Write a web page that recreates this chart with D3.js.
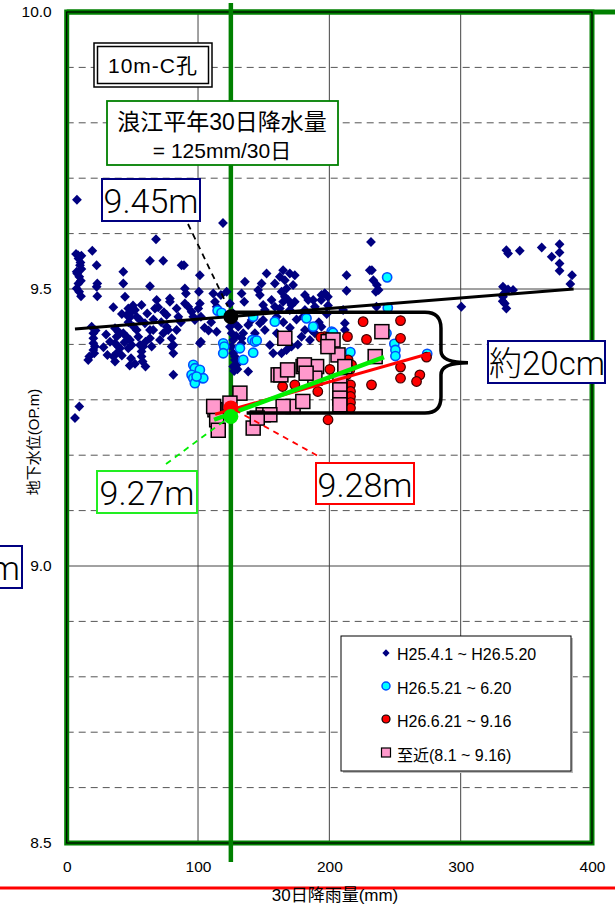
<!DOCTYPE html>
<html>
<head>
<meta charset="utf-8">
<script src="https://cdn.jsdelivr.net/npm/d3@7"></script>
<style>
  html, body { margin: 0; padding: 0; background: #fff; }
  svg { display: block; }
  text { font-family: "Liberation Sans", Arial, "Noto Sans CJK JP", sans-serif; fill: #000; }
  .jp { font-family: "Liberation Sans", "Noto Sans CJK JP", sans-serif; }
  .big { font-family: Roboto, "Liberation Sans", "Noto Sans CJK JP", sans-serif; font-weight: 300; }
</style>
</head>
<body>
<svg id="chart" width="615" height="908"></svg>
<script>
// ---- data: 30-day rainfall (mm) vs groundwater level (OP.m), well 10m-C ----
const periodLabels = ["H25.4.1 ~ H26.5.20", "H26.5.21 ~ 6.20", "H26.6.21 ~ 9.16", "至近(8.1 ~ 9.16)"];

const seriesA = [ // H25.4.1 ~ H26.5.20
  [7.8,9.661],[68,9.590],[19.5,9.569],[8.6,9.561],[11.2,9.560],[7.1,9.563],[10.1,9.543],[11.2,9.536],
  [7.6,9.531],[9.6,9.522],[8.9,9.510],[7.6,9.501],[10.9,9.487],[22.8,9.543],[23.3,9.510],[22.8,9.504],
  [23.3,9.487],[63.4,9.551],[73.5,9.551],[43.1,9.531],[43.1,9.510],[63.4,9.505],[89.3,9.543],[90,9.501],
  [90.8,9.492],[44.4,9.486],[35.5,9.467],[46.9,9.465],[49.5,9.459],[52,9.462],[53.3,9.450],[48.2,9.449],
  [45.7,9.453],[57,9.471],[61.3,9.456],[68.5,9.480],[67.2,9.465],[69.7,9.467],[78.6,9.483],[78.6,9.477],
  [83.7,9.465],[76.1,9.453],[90,9.474],[92.5,9.468],[95.1,9.459],[96.4,9.450],[97.6,9.444],[55.8,9.444],
  [59.6,9.438],[63.4,9.426],[65.9,9.426],[19,9.432],[20.3,9.420],[20.3,9.411],[20.3,9.402],[21.5,9.396],
  [20.3,9.390],[17.2,9.378],[16.4,9.372],[36.8,9.429],[39.3,9.423],[40.6,9.420],[38,9.414],[36.8,9.402],
  [39.3,9.396],[40.6,9.393],[38,9.384],[35.5,9.378],[36.8,9.369],[43.1,9.420],[45.7,9.414],[48.2,9.408],
  [49.5,9.399],[46.9,9.393],[53.3,9.426],[54.5,9.414],[55.8,9.399],[58.3,9.396],[57,9.387],[57,9.378],
  [57.8,9.369],[63.4,9.411],[64.7,9.396],[71,9.408],[73.5,9.420],[76.1,9.432],[77.3,9.426],[79.9,9.411],
  [81.2,9.399],[81.2,9.384],[79.9,9.396],[83.7,9.426],[81.2,9.345],[9.6,9.288],[6.3,9.267],[87.5,9.543],
  [101.4,9.402],[9,9.555],[10.5,9.548],[8,9.528],[10.8,9.515],[9.5,9.495],[22,9.425],[21,9.384],
  [50.5,9.470],[42,9.455],[47,9.440],[51,9.432],[44,9.404],[33,9.405],[30,9.418],[28,9.395],[31,9.381],
  [42,9.380],[49,9.375],[52,9.365],[60,9.405],[66,9.445],[72,9.440],[74,9.458],[85,9.450],[87,9.440],
  [60,9.360],[48,9.362],
  [101.4,9.525],[100.7,9.495],[101.4,9.474],[100.2,9.465],[102.2,9.450],[111.6,9.492],[112.9,9.477],
  [114.2,9.468],[117.4,9.489],[121.8,9.495],[124.3,9.474],[126.8,9.456],[135.7,9.513],[133.2,9.492],
  [135.2,9.477],[145.8,9.498],[147.1,9.489],[149.6,9.471],[152.2,9.528],[148.4,9.510],[158.5,9.510],
  [162.3,9.522],[164.8,9.534],[166.1,9.516],[167.4,9.501],[169.9,9.528],[172.4,9.507],[173.7,9.525],
  [163.6,9.495],[166.1,9.486],[164.8,9.477],[168.6,9.480],[171.1,9.471],[173.7,9.477],[169.9,9.462],
  [158.5,9.468],[162.3,9.465],[156,9.480],[150.9,9.462],[181.4,9.489],[183.9,9.480],[187.7,9.480],
  [194,9.489],[196.6,9.492],[189,9.468],[181.4,9.462],[114.2,9.423],[102.2,9.405],[133.2,9.411],
  [143.3,9.420],[124.3,9.432],[125.6,9.420],[126.8,9.408],[125.6,9.396],[126.8,9.384],[128.1,9.372],
  [126.8,9.360],[129.4,9.363],[130.6,9.432],[134.4,9.420],[133.2,9.402],[138.2,9.435],[140.8,9.444],
  [147.1,9.438],[149.6,9.444],[150.9,9.426],[154.7,9.399],[157.2,9.384],[163.6,9.384],[167.4,9.390],
  [171.2,9.396],[181.4,9.426],[178.8,9.414],[185.2,9.408],[186.4,9.426],[189,9.420],[194,9.432],
  [138.2,9.351],[119,9.619],[196.4,9.492],[198.9,9.486],[193.8,9.480],[127,9.440],[129,9.415],
  [131,9.395],[128,9.378],[130,9.355],[127.5,9.352],[108,9.425],[110,9.440],[105,9.430],[160,9.450],
  [165,9.440],[175,9.445],[180,9.450],[170,9.430],[160,9.420],[176,9.400],[192,9.440],[198,9.455],
  [199,9.470],
  [213.1,9.525],[213.1,9.497],[232.4,9.534],[233.5,9.516],[236.2,9.507],[237.5,9.498],[230.8,9.534],
  [235.4,9.495],[235.9,9.468],[211.8,9.438],[211.8,9.426],[210.5,9.462],[231.7,9.585],[300.5,9.468],
  [334.8,9.570],[336.1,9.564],[345,9.569],[361.7,9.575],[369.3,9.558],[375.3,9.581],[375.3,9.566],
  [375.3,9.546],[375.3,9.533],[384.8,9.525],[383.5,9.509],[332.2,9.504],[336.1,9.499],[339.9,9.498],
  [332.2,9.486],[333.6,9.474],[334.8,9.465],[332,9.478],[333,9.492]
];

const seriesB = [ // H26.5.21 ~ 6.20
  [96.4,9.363],[97.6,9.357],[95.1,9.345],[96.4,9.339],[97.6,9.330],[103.5,9.339],[114.9,9.461],
  [117.9,9.457],[142,9.450],[158.5,9.441],[182.6,9.447],[187.7,9.432],[119.2,9.402],[120,9.396],
  [119.2,9.384],[131.9,9.393],[134.4,9.372],[141.3,9.408],[143.3,9.405],[142,9.385],[101.4,9.354],
  [104,9.339],[98.9,9.342],[201.7,9.423],[244,9.521],[244.5,9.466],[216,9.386],[249.5,9.401],
  [250.3,9.390],[250.3,9.379],[274.5,9.383],[144.7,9.407],[243.5,9.420],[202.8,9.421]
];

const seriesC = [ // H26.6.21 ~ 9.16
  [225.7,9.441],[254.2,9.443],[213.8,9.414],[228.3,9.409],[254.2,9.411],[254.2,9.359],[254.2,9.339],
  [268.9,9.345],[266.4,9.333],[232.1,9.327],[274,9.377],[216.1,9.327],[216.1,9.315],[216.1,9.306],
  [216.1,9.295],[216.1,9.285],[214.3,9.372],[216.9,9.363],[215.6,9.354],[213.1,9.345],[196.4,9.414],
  [191.2,9.315],[164.4,9.324],[199,9.264],[173.7,9.327],[200.4,9.355],[193.5,9.413]
];

const seriesD = [ // 至近 8.1 ~ 9.16
  [166.1,9.411],[161,9.345],[180,9.360],[172.4,9.288],[164.8,9.288],[131.9,9.312],[124.3,9.294],
  [112.9,9.282],[114.2,9.264],[115.4,9.245],[142,9.249],[149.6,9.273],[154.7,9.273],[199.1,9.405],
  [190.3,9.360],[189,9.339],[202.8,9.408],[240,9.423],[234.9,9.378],[206.6,9.381],[211.8,9.360],
  [198.9,9.396],[181,9.363],[182.3,9.348],[163.1,9.345],[168.2,9.354],[179.8,9.297],[208,9.333],
  [208,9.318],[208,9.303],[208,9.291],[145.1,9.267],[111.9,9.288]
];

// trend lines (start / end points)
const trendA = [[6.3, 9.428], [386, 9.500]];
const trendC = [[113, 9.274], [277, 9.384]];
const trendD = [[112.2, 9.264], [241.6, 9.377]];

// levels at normal-year 30-day rainfall
const normalRain = 125;
const levelA = 9.45, levelC = 9.28, levelD = 9.27;

const xTicks = [0, 100, 200, 300, 400];
const yTicks = [8.5, 9.0, 9.5, 10.0];
const yMinor = [8.6, 8.7, 8.8, 8.9, 9.1, 9.2, 9.3, 9.4, 9.6, 9.7, 9.8, 9.9];

// ---- drawing ----
const svg = d3.select("#chart");
const x = d3.scaleLinear().domain([0, 400]).range([66.7, 592]);
const y = d3.scaleLinear().domain([8.5, 10]).range([843, 12]);
const GREEN = "#008000";

// minor dashed grid
svg.append("g").selectAll("line").data(yMinor).join("line")
  .attr("x1", x(0)).attr("x2", x(400))
  .attr("y1", d => y(d)).attr("y2", d => y(d))
  .attr("stroke", "#555").attr("stroke-width", 1).attr("stroke-dasharray", "7,5");
// major grid
svg.append("g").selectAll("line").data([9.0, 9.5]).join("line")
  .attr("x1", x(0)).attr("x2", x(400))
  .attr("y1", d => y(d)).attr("y2", d => y(d))
  .attr("stroke", "#444").attr("stroke-width", 1);
svg.append("g").selectAll("line").data([100, 200, 300]).join("line")
  .attr("x1", d => x(d)).attr("x2", d => x(d))
  .attr("y1", y(10)).attr("y2", y(8.5))
  .attr("stroke", "#444").attr("stroke-width", 1);

// frame: green with a black inner hairline
svg.append("line").attr("x1", x(0)).attr("x2", 615).attr("y1", y(10)).attr("y2", y(10))
  .attr("stroke", GREEN).attr("stroke-width", 5);
svg.append("rect").attr("x", x(0)).attr("y", y(10)).attr("width", x(400) - x(0)).attr("height", y(8.5) - y(10))
  .attr("fill", "none").attr("stroke", GREEN).attr("stroke-width", 5);
svg.append("rect").attr("x", x(0)).attr("y", y(10)).attr("width", x(400) - x(0)).attr("height", y(8.5) - y(10))
  .attr("fill", "none").attr("stroke", "#000").attr("stroke-width", 1.2);

// normal-year rainfall line
svg.append("line").attr("x1", x(normalRain)).attr("x2", x(normalRain))
  .attr("y1", 3).attr("y2", 862).attr("stroke", GREEN).attr("stroke-width", 4.5);

// axes (labels only)
const fmtY = d3.format(".1f");
const gx = svg.append("g").attr("transform", `translate(0,${y(8.5)})`)
  .call(d3.axisBottom(x).tickValues(xTicks).tickSize(0).tickPadding(18).tickFormat(d3.format("d")));
const gy = svg.append("g").attr("transform", `translate(${x(0)},0)`)
  .call(d3.axisLeft(y).tickValues(yTicks).tickSize(0).tickPadding(15).tickFormat(fmtY));
[gx, gy].forEach(g => {
  g.select(".domain").remove();
  g.selectAll("text").attr("font-size", 15.5).attr("fill", "#000")
    .attr("font-family", "'Liberation Sans', Arial, sans-serif");
});

// red rule under the axis
svg.append("line").attr("x1", 0).attr("x2", 615).attr("y1", 888).attr("y2", 888)
  .attr("stroke", "#ff0000").attr("stroke-width", 3);

svg.append("text").attr("class", "jp").attr("x", 335).attr("y", 901).attr("text-anchor", "middle")
  .attr("font-size", 17).text("30日降雨量(mm)");
svg.append("text").attr("class", "jp").attr("transform", "translate(39,442) rotate(-90)")
  .attr("text-anchor", "middle").attr("font-size", 15).text("地下水位(OP.m)");

// scatter series
const diamondPath = "M0,-5L4.9,0L0,5L-4.9,0Z";
svg.append("g").selectAll("path").data(seriesA).join("path")
  .attr("d", diamondPath)
  .attr("transform", d => `translate(${x(d[0])},${y(d[1])})`)
  .attr("fill", "#000080");

svg.append("g").selectAll("circle").data(seriesB).join("circle")
  .attr("cx", d => x(d[0])).attr("cy", d => y(d[1])).attr("r", 4.6)
  .attr("fill", "#00ffff").attr("stroke", "#0050ff").attr("stroke-width", 1.6);

svg.append("g").selectAll("circle").data(seriesC).join("circle")
  .attr("cx", d => x(d[0])).attr("cy", d => y(d[1])).attr("r", 4.8)
  .attr("fill", "#ff0000").attr("stroke", "#400000").attr("stroke-width", 1.2);

svg.append("g").selectAll("rect").data(seriesD).join("rect")
  .attr("x", d => x(d[0]) - 7).attr("y", d => y(d[1]) - 7).attr("width", 14).attr("height", 14)
  .attr("fill", "#ff99cc").attr("stroke", "#000").attr("stroke-width", 1.5);

// trend lines
const line = d3.line().x(d => x(d[0])).y(d => y(d[1]));
svg.append("path").attr("d", line(trendA)).attr("stroke", "#000").attr("stroke-width", 3).attr("fill", "none");
svg.append("path").attr("d", line(trendC)).attr("stroke", "#ff0000").attr("stroke-width", 3).attr("fill", "none");
svg.append("path").attr("d", line(trendD)).attr("stroke", "#00ee00").attr("stroke-width", 4.5).attr("fill", "none");

// brace spanning the level difference
const bx0 = x(normalRain), bx1 = x(285), bTop = y(9.458), bBot = y(9.276), bMid = (bTop + bBot) / 2;
const brace = `M${bx0},${bTop} H${bx1 - 16} Q${bx1},${bTop} ${bx1},${bTop + 16} V${bMid - 12}
  Q${bx1},${bMid} ${bx1 + 27},${bMid} Q${bx1},${bMid} ${bx1},${bMid + 12} V${bBot - 16}
  Q${bx1},${bBot} ${bx1 - 16},${bBot} H${x(137)}`;
svg.append("path").attr("d", brace).attr("fill", "none").attr("stroke", "#000").attr("stroke-width", 3.5);

// level markers at normal rainfall
svg.append("circle").attr("cx", x(normalRain)).attr("cy", y(levelA)).attr("r", 7.5).attr("fill", "#000");
svg.append("circle").attr("cx", x(normalRain)).attr("cy", y(levelC) - 3).attr("r", 7.5).attr("fill", "#ff0000");
svg.append("circle").attr("cx", x(normalRain)).attr("cy", y(levelD)).attr("r", 7.5).attr("fill", "#00ee00");

// leader lines
const leader = (x1, y1, x2, y2, color) =>
  svg.append("line").attr("x1", x1).attr("y1", y1).attr("x2", x2).attr("y2", y2)
    .attr("stroke", color).attr("stroke-width", 1.8).attr("stroke-dasharray", "6,5");
leader(188, 224, x(normalRain) - 3, y(levelA) - 10, "#000");
leader(166, 464, x(normalRain) - 6, y(levelD) + 4, "#00ee00");
leader(x(normalRain) + 4, y(levelC) - 1, 318, 456, "#ff0000");

// labelled boxes
function box(x0, y0, w, h, color, sw) {
  svg.append("rect").attr("x", x0).attr("y", y0).attr("width", w).attr("height", h)
    .attr("fill", "#fff").attr("stroke", color).attr("stroke-width", sw);
}
function label(tx, ty, str, size, anchor, cls) {
  return svg.append("text").attr("class", cls || "jp").attr("x", tx).attr("y", ty)
    .attr("text-anchor", anchor || "middle").attr("font-size", size).text(str);
}

// title box with double border
box(94, 43, 118, 44, "#000", 1.5);
svg.append("rect").attr("x", 97.5).attr("y", 46.5).attr("width", 111).attr("height", 37)
  .attr("fill", "none").attr("stroke", "#000").attr("stroke-width", 1.5);
label(153, 73, "10m-C孔", 21).attr("letter-spacing", 1);

box(107, 101, 231, 64, GREEN, 1.8);
label(222, 130, "浪江平年30日降水量", 23);
label(222, 158, "= 125mm/30日", 21);

box(102, 179, 98, 42, "#000080", 2);
label(151, 213, levelA.toFixed(2) + "m", 34, "middle", "big");

box(-76, 546, 98, 42, "#000080", 2);
label(20, 580, levelA.toFixed(2) + "m", 34, "end", "big");

box(97, 471, 100, 42, "#22ee22", 2);
label(147, 505, levelD.toFixed(2) + "m", 34, "middle", "big");

box(316, 463, 98, 41, "#ff0000", 2);
label(365, 497, levelC.toFixed(2) + "m", 34, "middle", "big");

box(488, 341, 117, 42, "#000080", 2);
label(547, 375, "約" + Math.round((levelA - levelC) * 100 + 3) + "cm", 33, "middle", "big");

// legend
const lg = svg.append("g");
lg.append("rect").attr("x", 343).attr("y", 638).attr("width", 230).attr("height", 135).attr("fill", "#bbb");
lg.append("rect").attr("x", 341).attr("y", 636).attr("width", 230).attr("height", 135)
  .attr("fill", "#fff").attr("stroke", "#000").attr("stroke-width", 1);
const rowsY = [654, 688, 721, 755];
const symX = 386;
lg.append("path").attr("d", "M0,-3.8L3.6,0L0,3.8L-3.6,0Z")
  .attr("transform", `translate(${symX},${rowsY[0] - 1})`).attr("fill", "#000080");
lg.append("circle").attr("cx", symX).attr("cy", rowsY[1] - 2).attr("r", 4)
  .attr("fill", "#00ffff").attr("stroke", "#0050ff").attr("stroke-width", 1.5);
lg.append("circle").attr("cx", symX).attr("cy", rowsY[2] - 2).attr("r", 4)
  .attr("fill", "#ff0000").attr("stroke", "#000").attr("stroke-width", 1.2);
lg.append("rect").attr("x", symX - 4.5).attr("y", rowsY[3] - 7).attr("width", 9).attr("height", 9)
  .attr("fill", "#ff99cc").attr("stroke", "#000").attr("stroke-width", 1.2);
lg.selectAll("text.lt").data(periodLabels).join("text").attr("class", "lt jp")
  .attr("x", 397).attr("y", (d, i) => rowsY[i] + 6).attr("font-size", 16).text(d => d);
</script>
</body>
</html>
